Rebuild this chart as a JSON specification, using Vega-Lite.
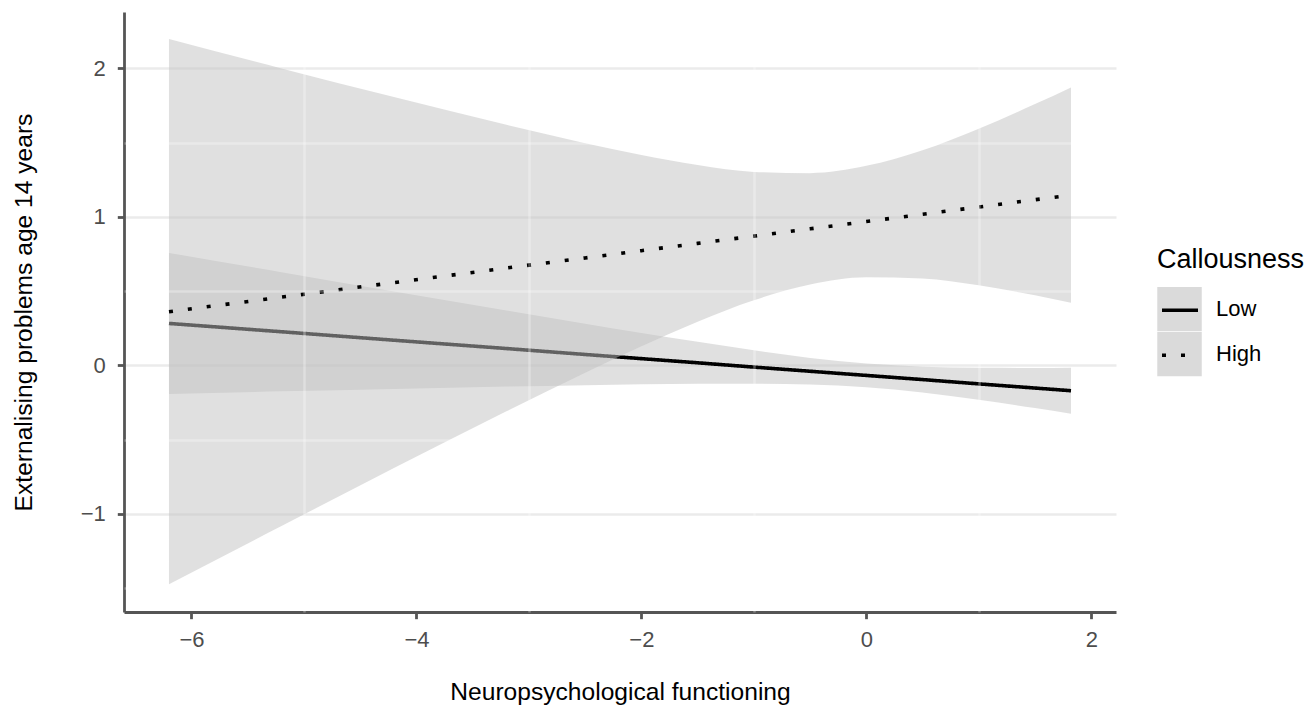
{
  "$schema": "https://vega.github.io/schema/vega-lite/v6.json",
  "width": 992,
  "height": 600,
  "autosize": {"type": "none"},
  "padding": {"left": 124, "top": 12, "right": 195, "bottom": 104},
  "background": "white",
  "config": {
    "view": {"stroke": null},
    "font": "Liberation Sans",
    "legend": {"padding": 0}
  },
  "data": {
    "values": [
      {"x": -6.2, "group": "Low", "fit": 0.283, "lo": -0.192, "hi": 0.758},
      {"x": -5.2, "group": "Low", "fit": 0.227, "lo": -0.174, "hi": 0.628},
      {"x": -4.2, "group": "Low", "fit": 0.170, "lo": -0.158, "hi": 0.498},
      {"x": -3.2, "group": "Low", "fit": 0.114, "lo": -0.142, "hi": 0.370},
      {"x": -2.5, "group": "Low", "fit": 0.074, "lo": -0.133, "hi": 0.281},
      {"x": -2.0, "group": "Low", "fit": 0.046, "lo": -0.127, "hi": 0.219},
      {"x": -1.5, "group": "Low", "fit": 0.018, "lo": -0.123, "hi": 0.159},
      {"x": -1.0, "group": "Low", "fit": -0.011, "lo": -0.123, "hi": 0.102},
      {"x": -0.5, "group": "Low", "fit": -0.039, "lo": -0.129, "hi": 0.051},
      {"x": 0.0, "group": "Low", "fit": -0.067, "lo": -0.147, "hi": 0.013},
      {"x": 0.5, "group": "Low", "fit": -0.095, "lo": -0.182, "hi": -0.008},
      {"x": 1.0, "group": "Low", "fit": -0.124, "lo": -0.231, "hi": -0.016},
      {"x": 1.5, "group": "Low", "fit": -0.152, "lo": -0.287, "hi": -0.017},
      {"x": 1.82, "group": "Low", "fit": -0.170, "lo": -0.325, "hi": -0.015},
      {"x": -6.2, "group": "High", "fit": 0.362, "lo": -1.473, "hi": 2.198},
      {"x": -5.2, "group": "High", "fit": 0.460, "lo": -1.081, "hi": 2.000},
      {"x": -4.2, "group": "High", "fit": 0.558, "lo": -0.691, "hi": 1.807},
      {"x": -3.2, "group": "High", "fit": 0.656, "lo": -0.309, "hi": 1.620},
      {"x": -2.5, "group": "High", "fit": 0.724, "lo": -0.049, "hi": 1.497},
      {"x": -2.0, "group": "High", "fit": 0.773, "lo": 0.129, "hi": 1.417},
      {"x": -1.5, "group": "High", "fit": 0.822, "lo": 0.295, "hi": 1.349},
      {"x": -1.0, "group": "High", "fit": 0.871, "lo": 0.439, "hi": 1.303},
      {"x": -0.5, "group": "High", "fit": 0.920, "lo": 0.545, "hi": 1.295},
      {"x": 0.0, "group": "High", "fit": 0.969, "lo": 0.594, "hi": 1.344},
      {"x": 0.5, "group": "High", "fit": 1.018, "lo": 0.586, "hi": 1.449},
      {"x": 1.0, "group": "High", "fit": 1.067, "lo": 0.540, "hi": 1.594},
      {"x": 1.5, "group": "High", "fit": 1.116, "lo": 0.472, "hi": 1.760},
      {"x": 1.82, "group": "High", "fit": 1.147, "lo": 0.422, "hi": 1.872}
    ]
  },
  "resolve": {"axis": {"x": "independent", "y": "independent"}},
  "layer": [
    {
      "transform": [{"filter": "datum.group === 'Low'"}],
      "mark": {"type": "area", "fillOpacity": 0.5, "interpolate": "monotone"},
      "encoding": {
        "x": {
          "field": "x", "type": "quantitative",
          "scale": {"domain": [-6.6, 2.22], "nice": false, "zero": false},
          "axis": {
            "title": "Neuropsychological functioning",
            "values": [-6, -4, -2, 0, 2],
            "grid": false,
            "domainColor": "#555555", "domainWidth": 2.8,
            "tickColor": "#555555", "tickWidth": 2.8, "tickSize": 6.7,
            "labelFontSize": 22, "labelColor": "#4d4d4d", "labelPadding": 11,
            "titleFontSize": 24.6, "titleFontWeight": "normal", "titleColor": "black", "titlePadding": 30
          }
        },
        "y": {
          "field": "lo", "type": "quantitative",
          "scale": {"domain": [-1.66, 2.38], "nice": false, "zero": false},
          "axis": {
            "title": "Externalising problems age 14 years",
            "values": [-1, 0, 1, 2],
            "grid": true, "gridColor": "#ebebeb", "gridWidth": 2.5,
            "domainColor": "#555555", "domainWidth": 2.8,
            "tickColor": "#555555", "tickWidth": 2.8, "tickSize": 6.7,
            "labelFontSize": 22, "labelColor": "#4d4d4d", "labelPadding": 12,
            "titleFontSize": 24.6, "titleFontWeight": "normal", "titleColor": "black", "titlePadding": 44
          }
        },
        "y2": {"field": "hi"},
        "fill": {
          "field": "group", "type": "nominal",
          "scale": {"domain": ["Low", "High", "Other"], "range": ["#c2c2c2", "#c2c2c2", "#c2c2c2"]},
          "legend": {
            "orient": "none", "legendX": 1033, "legendY": 235,
            "values": ["Low", "High"],
            "title": "Callousness", "titleFontSize": 27, "titleFontWeight": "normal", "titleColor": "black",
            "titlePadding": 13,
            "symbolType": "square", "symbolSize": 1980, "symbolStrokeWidth": 0, "symbolOpacity": 0.6,
            "clipHeight": 44.5, "rowPadding": 0,
            "labelFontSize": 22, "labelColor": "black", "labelOffset": 14,
            "zindex": 1
          }
        }
      }
    },
    {
      "transform": [{"filter": "datum.group === 'Low'"}],
      "mark": {"type": "line", "color": "black", "strokeWidth": 3.6, "strokeCap": "butt"},
      "encoding": {
        "x": {
          "field": "x", "type": "quantitative",
          "axis": {
            "orient": "bottom", "values": [-5, -3, -1, 1], "grid": true, "gridColor": "white",
            "gridOpacity": 0.3, "gridWidth": 2.5, "labels": false, "ticks": false, "domain": false,
            "title": null, "zindex": 1
          }
        },
        "y": {
          "field": "fit", "type": "quantitative",
          "axis": {
            "orient": "left", "values": [-1.5, -0.5, 0.5, 1.5], "grid": true, "gridColor": "white",
            "gridOpacity": 0.3, "gridWidth": 2.5, "labels": false, "ticks": false, "domain": false,
            "title": null, "zindex": 1
          }
        },
        "strokeDash": {
          "field": "group", "type": "nominal",
          "scale": {"domain": ["Low", "High"], "range": [[1, 0], [4, 15]]},
          "legend": {
            "orient": "none", "legendX": 1036, "legendY": 276,
            "title": null,
            "symbolType": "stroke", "symbolSize": 1296, "symbolStrokeWidth": 3.6, "symbolStrokeColor": "black",
            "clipHeight": 44.5, "rowPadding": 0,
            "labelFontSize": 22, "labelOpacity": 0, "labelExpr": "''",
            "zindex": 2
          }
        }
      }
    },
    {
      "transform": [{"filter": "datum.group === 'High'"}],
      "mark": {"type": "area", "fillOpacity": 0.5, "interpolate": "monotone"},
      "encoding": {
        "x": {"field": "x", "type": "quantitative", "axis": null},
        "y": {"field": "lo", "type": "quantitative", "axis": null},
        "y2": {"field": "hi"},
        "fill": {"field": "group", "type": "nominal"}
      }
    },
    {
      "transform": [{"filter": "datum.group === 'High'"}],
      "mark": {"type": "line", "color": "black", "strokeWidth": 3.6, "strokeCap": "butt"},
      "encoding": {
        "x": {"field": "x", "type": "quantitative", "axis": null},
        "y": {"field": "fit", "type": "quantitative", "axis": null},
        "strokeDash": {"field": "group", "type": "nominal"}
      }
    }
  ]
}
